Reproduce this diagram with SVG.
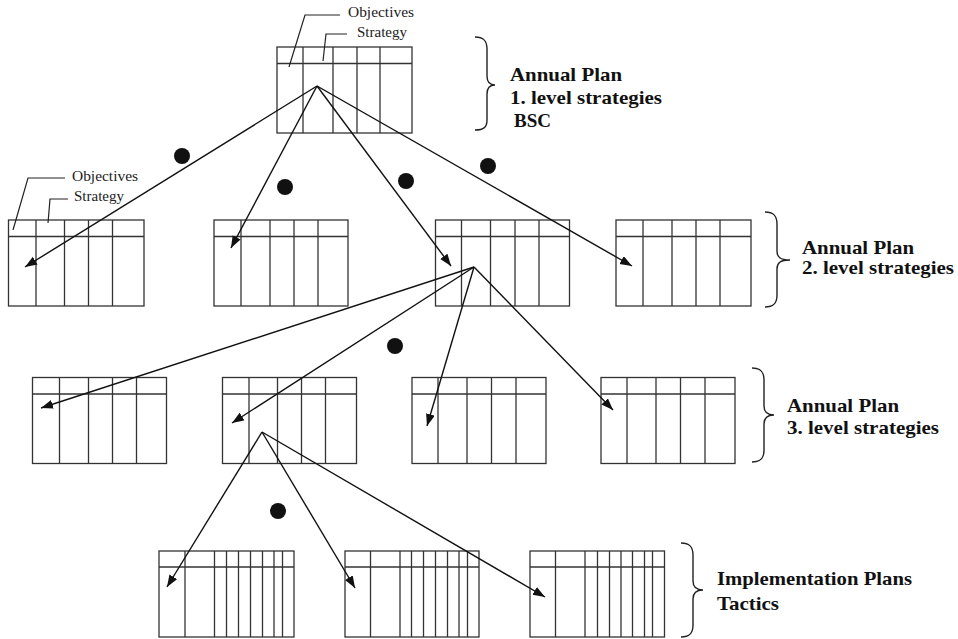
<svg xmlns="http://www.w3.org/2000/svg" width="958" height="639" viewBox="0 0 958 639">
  <style>
    .tbl rect, .tbl line { fill: none; stroke: #333; stroke-width: 1.3; }
    .lead { fill: none; stroke: #222; stroke-width: 1.2; }
    .conn line { stroke: #111; stroke-width: 1.4; }
    .brace { fill: none; stroke: #222; stroke-width: 1.4; }
    .dot { fill: #111; }
    .small { font-family: "Liberation Serif", "Times New Roman", serif; font-size: 15px; fill: #222; }
    .lbl { font-family: "Liberation Serif", "Times New Roman", serif; font-size: 19px; font-weight: bold; fill: #111; }
  </style>
  <defs>
    <marker id="ah" markerUnits="userSpaceOnUse" markerWidth="13" markerHeight="10" refX="12" refY="4.5" orient="auto">
      <path d="M0,0 L12,4.5 L0,9 Z" fill="#111"/>
    </marker>
  </defs>

  <!-- level 1 -->
  <g id="t1" class="tbl">
    <rect x="277" y="47" width="135" height="86"/>
    <line x1="277" y1="63.5" x2="412" y2="63.5"/>
    <line x1="303" y1="47" x2="303" y2="133"/>
    <line x1="333" y1="47" x2="333" y2="133"/>
    <line x1="357" y1="47" x2="357" y2="133"/>
    <line x1="380" y1="47" x2="380" y2="133"/>
  </g>
  <g id="t1-labels">
    <polyline class="lead" points="289,67 305,15 340,15"/>
    <polyline class="lead" points="323,61 326,34 347,34"/>
    <text class="small" x="348" y="17" textLength="66" lengthAdjust="spacingAndGlyphs">Objectives</text>
    <text class="small" x="357" y="37">Strategy</text>
  </g>

  <!-- level 2 -->
  <g id="t2a" class="tbl">
    <rect x="8.5" y="220" width="135.5" height="86"/>
    <line x1="8.5" y1="236.5" x2="144" y2="236.5"/>
    <line x1="36" y1="220" x2="36" y2="306"/>
    <line x1="64.5" y1="220" x2="64.5" y2="306"/>
    <line x1="88.5" y1="220" x2="88.5" y2="306"/>
    <line x1="112.5" y1="220" x2="112.5" y2="306"/>
  </g>
  <g id="t2a-labels">
    <polyline class="lead" points="13,230 28,178 65,178"/>
    <polyline class="lead" points="48,223 50,199 68,199"/>
    <text class="small" x="72" y="181" textLength="66" lengthAdjust="spacingAndGlyphs">Objectives</text>
    <text class="small" x="74" y="201">Strategy</text>
  </g>
  <g id="t2b" class="tbl">
    <rect x="214" y="220" width="134" height="86"/>
    <line x1="214" y1="236.5" x2="348" y2="236.5"/>
    <line x1="241" y1="220" x2="241" y2="306"/>
    <line x1="270" y1="220" x2="270" y2="306"/>
    <line x1="294" y1="220" x2="294" y2="306"/>
    <line x1="318" y1="220" x2="318" y2="306"/>
  </g>
  <g id="t2c" class="tbl">
    <rect x="435.5" y="220" width="134" height="86"/>
    <line x1="435.5" y1="236.5" x2="569.5" y2="236.5"/>
    <line x1="461.5" y1="220" x2="461.5" y2="306"/>
    <line x1="490.5" y1="220" x2="490.5" y2="306"/>
    <line x1="515" y1="220" x2="515" y2="306"/>
    <line x1="539" y1="220" x2="539" y2="306"/>
  </g>
  <g id="t2d" class="tbl">
    <rect x="616" y="220" width="135" height="86"/>
    <line x1="616" y1="236.5" x2="751" y2="236.5"/>
    <line x1="643" y1="220" x2="643" y2="306"/>
    <line x1="672" y1="220" x2="672" y2="306"/>
    <line x1="696" y1="220" x2="696" y2="306"/>
    <line x1="720" y1="220" x2="720" y2="306"/>
  </g>

  <!-- level 3 -->
  <g id="t3a" class="tbl">
    <rect x="32.5" y="377.5" width="134" height="86"/>
    <line x1="32.5" y1="394" x2="166.5" y2="394"/>
    <line x1="59.5" y1="377.5" x2="59.5" y2="463.5"/>
    <line x1="88.5" y1="377.5" x2="88.5" y2="463.5"/>
    <line x1="112.5" y1="377.5" x2="112.5" y2="463.5"/>
    <line x1="136.5" y1="377.5" x2="136.5" y2="463.5"/>
  </g>
  <g id="t3b" class="tbl">
    <rect x="222.5" y="377.5" width="134" height="86"/>
    <line x1="222.5" y1="394" x2="356.5" y2="394"/>
    <line x1="249" y1="377.5" x2="249" y2="463.5"/>
    <line x1="277.5" y1="377.5" x2="277.5" y2="463.5"/>
    <line x1="301.5" y1="377.5" x2="301.5" y2="463.5"/>
    <line x1="325.5" y1="377.5" x2="325.5" y2="463.5"/>
  </g>
  <g id="t3c" class="tbl">
    <rect x="412" y="377.5" width="134" height="86"/>
    <line x1="412" y1="394" x2="546" y2="394"/>
    <line x1="438" y1="377.5" x2="438" y2="463.5"/>
    <line x1="467" y1="377.5" x2="467" y2="463.5"/>
    <line x1="491.5" y1="377.5" x2="491.5" y2="463.5"/>
    <line x1="516" y1="377.5" x2="516" y2="463.5"/>
  </g>
  <g id="t3d" class="tbl">
    <rect x="601" y="377.5" width="134" height="86"/>
    <line x1="601" y1="394" x2="735" y2="394"/>
    <line x1="627" y1="377.5" x2="627" y2="463.5"/>
    <line x1="656" y1="377.5" x2="656" y2="463.5"/>
    <line x1="680.5" y1="377.5" x2="680.5" y2="463.5"/>
    <line x1="705" y1="377.5" x2="705" y2="463.5"/>
  </g>

  <!-- implementation plans -->
  <g id="t4a" class="tbl">
    <rect x="159" y="551" width="135" height="86"/>
    <line x1="159" y1="567" x2="294" y2="567"/>
    <line x1="185" y1="551" x2="185" y2="637"/>
    <line x1="214.5" y1="551" x2="214.5" y2="637"/>
    <line x1="226.5" y1="551" x2="226.5" y2="637"/>
    <line x1="238.5" y1="551" x2="238.5" y2="637"/>
    <line x1="250.5" y1="551" x2="250.5" y2="637"/>
    <line x1="262.5" y1="551" x2="262.5" y2="637"/>
    <line x1="274" y1="551" x2="274" y2="637"/>
    <line x1="282.5" y1="551" x2="282.5" y2="637"/>
  </g>
  <g id="t4b" class="tbl">
    <rect x="345" y="551" width="134" height="86"/>
    <line x1="345" y1="567" x2="479" y2="567"/>
    <line x1="370.5" y1="551" x2="370.5" y2="637"/>
    <line x1="400" y1="551" x2="400" y2="637"/>
    <line x1="411.5" y1="551" x2="411.5" y2="637"/>
    <line x1="423.5" y1="551" x2="423.5" y2="637"/>
    <line x1="435.5" y1="551" x2="435.5" y2="637"/>
    <line x1="447.5" y1="551" x2="447.5" y2="637"/>
    <line x1="459" y1="551" x2="459" y2="637"/>
    <line x1="467.5" y1="551" x2="467.5" y2="637"/>
  </g>
  <g id="t4c" class="tbl">
    <rect x="530" y="551" width="134.5" height="86"/>
    <line x1="530" y1="567" x2="664.5" y2="567"/>
    <line x1="555.5" y1="551" x2="555.5" y2="637"/>
    <line x1="585" y1="551" x2="585" y2="637"/>
    <line x1="597.5" y1="551" x2="597.5" y2="637"/>
    <line x1="609.5" y1="551" x2="609.5" y2="637"/>
    <line x1="621" y1="551" x2="621" y2="637"/>
    <line x1="632.5" y1="551" x2="632.5" y2="637"/>
    <line x1="644.5" y1="551" x2="644.5" y2="637"/>
    <line x1="652.5" y1="551" x2="652.5" y2="637"/>
  </g>

  <!-- connectors -->
  <g id="connectors" class="conn">
    <line x1="317" y1="86" x2="25" y2="267" marker-end="url(#ah)"/>
    <line x1="317" y1="86" x2="231" y2="248" marker-end="url(#ah)"/>
    <line x1="317" y1="86" x2="451" y2="266" marker-end="url(#ah)"/>
    <line x1="317" y1="86" x2="632" y2="266" marker-end="url(#ah)"/>
    <line x1="474" y1="267" x2="41" y2="408" marker-end="url(#ah)"/>
    <line x1="474" y1="267" x2="232" y2="423" marker-end="url(#ah)"/>
    <line x1="474" y1="267" x2="427" y2="426" marker-end="url(#ah)"/>
    <line x1="474" y1="267" x2="613" y2="410" marker-end="url(#ah)"/>
    <line x1="262" y1="432" x2="167" y2="587" marker-end="url(#ah)"/>
    <line x1="262" y1="432" x2="355" y2="588" marker-end="url(#ah)"/>
    <line x1="262" y1="432" x2="545" y2="597" marker-end="url(#ah)"/>
  </g>

  <!-- bullets -->
  <g id="dots">
    <circle class="dot" cx="182" cy="156" r="8"/>
    <circle class="dot" cx="285" cy="187" r="8"/>
    <circle class="dot" cx="406" cy="181" r="8"/>
    <circle class="dot" cx="488" cy="166" r="8"/>
    <circle class="dot" cx="395" cy="346" r="8"/>
    <circle class="dot" cx="278" cy="511" r="8"/>
  </g>

  <!-- level braces and captions -->
  <g id="cap1">
    <path class="brace" d="M475,37 C484,37 487,41 487,49 L487,76 C487,82 490,85 495,85 C490,85 487,88 487,94 L487,120 C487,127 484,130 475,130"/>
    <text class="lbl" x="510" y="81" textLength="112" lengthAdjust="spacingAndGlyphs">Annual Plan</text>
    <text class="lbl" x="510" y="104" textLength="152" lengthAdjust="spacingAndGlyphs">1. level strategies</text>
    <text class="lbl" x="514" y="127" textLength="37" lengthAdjust="spacingAndGlyphs">BSC</text>
  </g>
  <g id="cap2">
    <path class="brace" d="M765,212 C774,212 777,216 777,224 L777,251 C777,257 780,260 790,260 C780,260 777,263 777,269 L777,295 C777,303 774,307 765,307"/>
    <text class="lbl" x="802" y="254" textLength="112" lengthAdjust="spacingAndGlyphs">Annual Plan</text>
    <text class="lbl" x="802" y="274" textLength="152" lengthAdjust="spacingAndGlyphs">2. level strategies</text>
  </g>
  <g id="cap3">
    <path class="brace" d="M752,368 C761,368 764,372 764,380 L764,406 C764,412 767,415 774,415 C767,415 764,418 764,424 L764,450 C764,458 761,462 752,462"/>
    <text class="lbl" x="787" y="412" textLength="112" lengthAdjust="spacingAndGlyphs">Annual Plan</text>
    <text class="lbl" x="787" y="434" textLength="152" lengthAdjust="spacingAndGlyphs">3. level strategies</text>
  </g>
  <g id="cap4">
    <path class="brace" d="M681,543 C690,543 693,547 693,555 L693,581 C693,587 696,590 703,590 C696,590 693,593 693,599 L693,625 C693,633 690,637 681,637"/>
    <text class="lbl" x="717" y="585" textLength="195" lengthAdjust="spacingAndGlyphs">Implementation Plans</text>
    <text class="lbl" x="717" y="610" textLength="62" lengthAdjust="spacingAndGlyphs">Tactics</text>
  </g>
</svg>
